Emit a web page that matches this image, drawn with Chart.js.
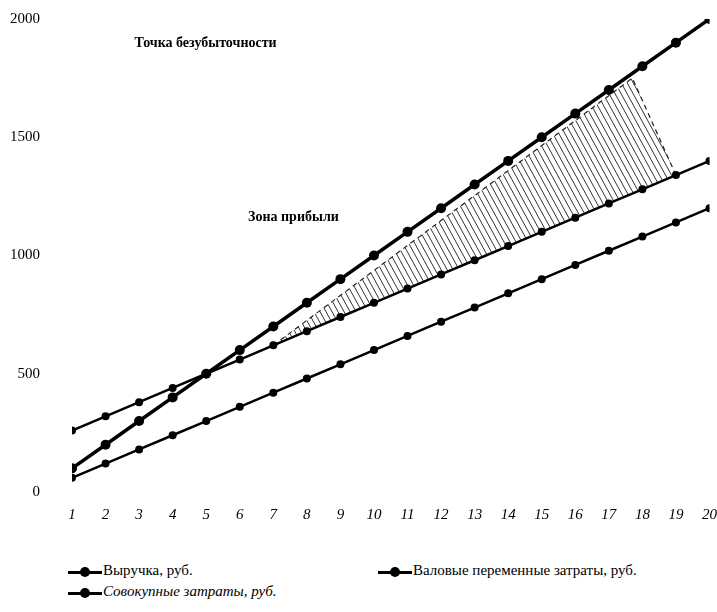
<!DOCTYPE html>
<html>
<head>
<meta charset="utf-8">
<script src="https://cdn.jsdelivr.net/npm/chart.js@4"></script>
<style>
  body { margin: 0; background: #fff; }
  #wrap { position: relative; width: 717px; height: 612px; overflow: hidden; }
  #chart { position: absolute; left: 0; top: -22px; }
  .leg { position: absolute; font-family: "Liberation Serif", serif; font-size: 15px; color: #000; white-space: nowrap; }
  .leg .mk { display: inline-block; position: relative; width: 34px; height: 12px; vertical-align: middle; margin-right: 1px; }
  .leg .mk::before { content: ""; position: absolute; left: 0; right: 0; top: 5px; height: 3px; background: #000; }
  .leg .mk::after { content: ""; position: absolute; left: 12px; top: 1px; width: 10px; height: 10px; border-radius: 50%; background: #000; }
</style>
</head>
<body>
<div id="wrap">
  <canvas id="chart" width="731" height="567"></canvas>
</div>
<script>
const periods = [1, 2, 3, 4, 5, 6, 7, 8, 9, 10, 11, 12, 13, 14, 15, 16, 17, 18, 19, 20]
const revenue = [100, 200, 300, 400, 500, 600, 700, 800, 900, 1000, 1100, 1200, 1300, 1400, 1500, 1600, 1700, 1800, 1900, 2000]
const variableCosts = [60, 120, 180, 240, 300, 360, 420, 480, 540, 600, 660, 720, 780, 840, 900, 960, 1020, 1080, 1140, 1200]
const totalCosts = [260, 320, 380, 440, 500, 560, 620, 680, 740, 800, 860, 920, 980, 1040, 1100, 1160, 1220, 1280, 1340, 1400]
// outline of the hatched profit zone: x positions and values
const zoneX = [7, 17.7, 19]
const zoneY = [620, 1750, 1340]
const seriesNames = ['Выручка, руб.', 'Валовые переменные затраты, руб.', 'Совокупные затраты, руб.']
const notes = [
    { text: 'Точка безубыточности', x: 4.98, y: 1895 },
    { text: 'Зона прибыли', x: 7.6, y: 1160 },
]

const toPoints = (xs, ys) => xs.map((x, i) => ({ x: x, y: ys[i] }))

// hatch pattern for the profit zone
const tile = document.createElement('canvas')
tile.width = 6
tile.height = 11
const tc = tile.getContext('2d')
tc.strokeStyle = '#333'
tc.lineWidth = 1
tc.beginPath()
for (let k = -1; k <= 1; k++) {
    tc.moveTo(k * 6, 0)
    tc.lineTo(k * 6 + 6, 11)
}
tc.stroke()
const hatch = tc.createPattern(tile, 'repeat')

const notesPlugin = {
    id: 'notes',
    afterDraw(chart) {
        const ctx = chart.ctx
        const sx = chart.scales.x
        const sy = chart.scales.y
        ctx.save()
        ctx.font = 'bold 14px "Liberation Serif"'
        ctx.fillStyle = '#000'
        ctx.textAlign = 'center'
        ctx.textBaseline = 'middle'
        notes.forEach((n) => {
            ctx.fillText(n.text, sx.getPixelForValue(n.x), sy.getPixelForValue(n.y))
        })
        ctx.restore()
    }
}

const lineStyle = (width, radius) => ({
    borderColor: '#000',
    backgroundColor: '#000',
    borderWidth: width,
    pointRadius: radius,
    pointBackgroundColor: '#000',
    pointBorderWidth: 0,
    fill: false,
    tension: 0,
})

const chart = new Chart(
    document.getElementById('chart'),
    {
        type: 'line',
        data: {
            datasets: [
                { label: seriesNames[0], data: toPoints(periods, revenue), order: 1, ...lineStyle(3.5, 5) },
                { label: seriesNames[1], data: toPoints(periods, variableCosts), order: 2, ...lineStyle(2.5, 4) },
                { label: seriesNames[2], data: toPoints(periods, totalCosts), order: 3, ...lineStyle(2.5, 4) },
                {
                    label: 'zone',
                    data: toPoints(zoneX, zoneY),
                    order: 10,
                    borderColor: '#222',
                    borderWidth: 1.2,
                    borderDash: [5, 4],
                    pointRadius: 0,
                    backgroundColor: hatch,
                    fill: 2,
                    tension: 0,
                },
            ]
        },
        options: {
            responsive: false,
            animation: false,
            layout: { padding: { top: 0, right: 0, left: 0, bottom: 0 } },
            plugins: {
                legend: { display: false },
                tooltip: { enabled: false },
            },
            scales: {
                x: {
                    type: 'linear',
                    min: 1,
                    max: 20,
                    grid: { display: false, drawTicks: false },
                    border: { display: false },
                    ticks: {
                        stepSize: 1,
                        padding: 14,
                        color: '#000',
                        font: { family: 'Liberation Serif', size: 15, style: 'italic' },
                    },
                    afterFit: (s) => { s.height = 53 },
                },
                y: {
                    min: 0,
                    max: 2000,
                    grid: { display: false, drawTicks: false },
                    border: { display: false },
                    ticks: {
                        stepSize: 500,
                        padding: 32,
                        color: '#000',
                        font: { family: 'Liberation Serif', size: 15 },
                        callback: (v) => String(v),
                    },
                    afterFit: (s) => { s.width = 72 },
                },
            },
        },
        plugins: [notesPlugin],
    }
)

// legend under the chart
const legendPos = [
    { left: 68, top: 562 },
    { left: 378, top: 562 },
    { left: 68, top: 583 },
]
const wrap = document.getElementById('wrap')
seriesNames.forEach((name, i) => {
    const d = document.createElement('div')
    d.className = 'leg'
    d.style.left = legendPos[i].left + 'px'
    d.style.top = legendPos[i].top + 'px'
    if (i == 2) d.style.fontStyle = 'italic'
    const mk = document.createElement('span')
    mk.className = 'mk'
    d.appendChild(mk)
    d.appendChild(document.createTextNode(name))
    wrap.appendChild(d)
})
</script>
</body>
</html>
